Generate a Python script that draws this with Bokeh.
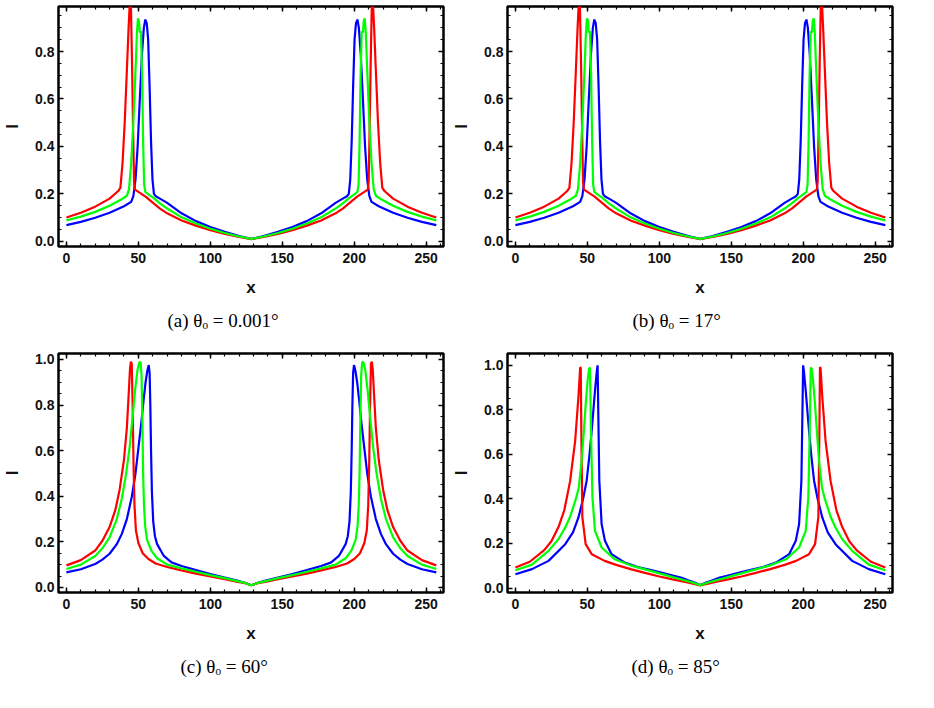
from bokeh.plotting import figure
from bokeh.models import Range1d, LinearAxis, FixedTicker, NumeralTickFormatter, Title, CustomLabelingPolicy
from bokeh.layouts import row, column
from bokeh.embed import file_html
from bokeh.resources import INLINE

# ---------------- data ----------------
# panel (a) theta_o = 0.001 deg   (panel (b) shows the same curves)
a_red_x = [0, 10, 20, 30, 36, 37.5, 39, 40.5, 42, 43.2, 44, 44.8, 45.6, 46.3, 47.0, 47.6, 50, 55, 60, 65, 70, 80, 90, 100, 110, 120, 128.5,
           137, 147, 157, 167, 177, 187, 192, 197, 202, 207, 209.4, 210, 210.7, 211.4, 212.2, 213, 213.8, 215, 216.5, 218, 219.5, 221, 227, 237, 247, 257]
a_red_y = [0.100, 0.120, 0.146, 0.180, 0.212, 0.225, 0.33, 0.50, 0.72, 0.90, 1.0, 1.0, 0.75, 0.48, 0.25, 0.218, 0.208, 0.188, 0.163, 0.138, 0.118, 0.088, 0.066, 0.047, 0.031, 0.018, 0.009,
           0.018, 0.031, 0.047, 0.066, 0.088, 0.118, 0.138, 0.163, 0.188, 0.208, 0.218, 0.25, 0.48, 0.75, 1.0, 1.0, 0.90, 0.72, 0.50, 0.33, 0.225, 0.212, 0.180, 0.146, 0.120, 0.100]
a_green_x = [0, 10, 20, 30, 38, 42, 43.5, 45, 46.5, 48, 49, 49.7, 50.4, 51.0, 51.8, 52.6, 53.3, 54.0, 54.8, 57, 60, 65, 70, 80, 90, 100, 110, 120, 128.5,
             137, 147, 157, 167, 177, 187, 192, 197, 200, 202.2, 203, 203.7, 204.4, 205.2, 206, 206.6, 207.3, 208, 209, 210.5, 212, 213.5, 215, 219, 227, 237, 247, 257]
a_green_y = [0.088, 0.104, 0.124, 0.150, 0.176, 0.192, 0.22, 0.33, 0.50, 0.72, 0.88, 0.94, 0.93, 0.88, 0.885, 0.70, 0.42, 0.24, 0.208, 0.198, 0.185, 0.16, 0.138, 0.101, 0.075, 0.053, 0.035, 0.020, 0.010,
             0.020, 0.035, 0.053, 0.075, 0.101, 0.138, 0.16, 0.185, 0.198, 0.208, 0.24, 0.42, 0.70, 0.885, 0.88, 0.93, 0.94, 0.88, 0.72, 0.50, 0.33, 0.22, 0.192, 0.176, 0.150, 0.124, 0.104, 0.088]
a_blue_x = [0, 10, 20, 30, 40, 45, 46.5, 48, 49.5, 51, 52.5, 53.8, 54.8, 55.8, 56.8, 57.8, 58.8, 59.8, 60.8, 62, 65, 70, 80, 90, 100, 110, 120, 128.5,
            137, 147, 157, 167, 177, 187, 192, 195, 196.2, 197.2, 198.2, 199.2, 200.2, 201.2, 202.2, 203.2, 204.5, 206, 207.5, 209, 210.5, 212, 217, 227, 237, 247, 257]
a_blue_y = [0.068, 0.082, 0.099, 0.120, 0.148, 0.166, 0.19, 0.26, 0.40, 0.60, 0.79, 0.90, 0.935, 0.92, 0.85, 0.65, 0.42, 0.26, 0.20, 0.190, 0.18, 0.162, 0.118, 0.085, 0.060, 0.040, 0.022, 0.010,
            0.022, 0.040, 0.060, 0.085, 0.118, 0.162, 0.18, 0.190, 0.20, 0.26, 0.42, 0.65, 0.85, 0.92, 0.935, 0.90, 0.79, 0.60, 0.40, 0.26, 0.19, 0.166, 0.148, 0.120, 0.099, 0.082, 0.068]

# panel (c) theta_o = 60 deg
c_red_x = [0, 10, 20, 25, 30, 34, 37, 40, 42, 43.2, 44.2, 44.8, 45.4, 46.0, 46.6, 47.3, 48.3, 50, 53, 57, 62, 70, 80, 90, 100, 110, 118, 124, 128.5,
           133, 139, 147, 157, 167, 177, 187, 195, 200, 204, 207, 208.7, 209.7, 210.4, 211, 211.6, 212.2, 212.8, 213.8, 215, 217, 220, 223, 227, 232, 237, 247, 257]
c_red_y = [0.097, 0.120, 0.162, 0.205, 0.265, 0.34, 0.43, 0.56, 0.70, 0.84, 0.96, 0.99, 0.98, 0.80, 0.55, 0.36, 0.25, 0.195, 0.150, 0.125, 0.105, 0.09, 0.075, 0.061, 0.048, 0.036, 0.026, 0.019, 0.010,
           0.019, 0.026, 0.036, 0.048, 0.061, 0.075, 0.09, 0.105, 0.125, 0.150, 0.195, 0.25, 0.36, 0.55, 0.80, 0.98, 0.99, 0.96, 0.84, 0.70, 0.56, 0.43, 0.34, 0.265, 0.205, 0.162, 0.120, 0.097]
c_green_x = [0, 10, 20, 25, 30, 35, 38.5, 41.5, 44, 46, 47.8, 49.3, 50.5, 51.5, 52.2, 52.8, 53.3, 53.9, 54.7, 56, 59, 63, 70, 80, 90, 100, 110, 118, 124, 128.5,
             133, 139, 147, 157, 167, 177, 187, 194, 198, 201, 202.3, 203.1, 203.7, 204.2, 204.8, 205.5, 206.5, 207.7, 209.2, 211, 213, 215.5, 218.5, 222, 227, 232, 237, 247, 257]
c_green_y = [0.081, 0.100, 0.138, 0.172, 0.22, 0.30, 0.39, 0.50, 0.62, 0.75, 0.87, 0.95, 0.985, 0.99, 0.93, 0.72, 0.50, 0.36, 0.27, 0.21, 0.162, 0.128, 0.1, 0.084, 0.069, 0.054, 0.041, 0.029, 0.020, 0.010,
             0.020, 0.029, 0.041, 0.054, 0.069, 0.084, 0.1, 0.128, 0.162, 0.21, 0.27, 0.36, 0.50, 0.72, 0.93, 0.99, 0.985, 0.95, 0.87, 0.75, 0.62, 0.50, 0.39, 0.30, 0.22, 0.172, 0.138, 0.100, 0.081]
c_blue_x = [0, 10, 20, 25, 30, 35, 38.5, 42, 45.5, 48, 50, 52, 53.6, 55, 56.2, 57.2, 57.8, 58.3, 58.8, 59.4, 60.3, 61.5, 63, 67.5, 73, 80, 90, 100, 110, 118, 124, 128.5,
            133, 139, 147, 157, 167, 177, 184, 189.5, 194, 195.5, 196.7, 197.6, 198.2, 198.7, 199.2, 199.8, 200.8, 202, 203.4, 205, 207, 209, 211.5, 215, 218.5, 222, 227, 232, 237, 247, 257]
c_blue_y = [0.066, 0.080, 0.103, 0.122, 0.148, 0.190, 0.235, 0.30, 0.40, 0.50, 0.61, 0.72, 0.82, 0.90, 0.95, 0.975, 0.94, 0.80, 0.60, 0.42, 0.29, 0.225, 0.19, 0.14, 0.11, 0.094, 0.076, 0.059, 0.044, 0.031, 0.021, 0.010,
            0.021, 0.031, 0.044, 0.059, 0.076, 0.094, 0.11, 0.14, 0.19, 0.225, 0.29, 0.42, 0.60, 0.80, 0.94, 0.975, 0.95, 0.90, 0.82, 0.72, 0.61, 0.50, 0.40, 0.30, 0.235, 0.190, 0.148, 0.122, 0.103, 0.080, 0.066]

# panel (d) theta_o = 85 deg
d_red_x = [0, 10, 20, 25, 30, 34, 38, 41.5, 43.8, 45, 45.4, 45.8, 46.5, 48.8, 53, 62, 70, 80, 90, 100, 110, 118, 124, 128.5,
           133, 139, 147, 157, 167, 177, 187, 195, 204, 208.2, 210.5, 211.2, 211.6, 212, 213.2, 215.5, 219, 223, 227, 232, 237, 247, 257]
d_red_y = [0.092, 0.118, 0.17, 0.21, 0.275, 0.35, 0.48, 0.66, 0.86, 0.99, 0.99, 0.70, 0.32, 0.197, 0.152, 0.122, 0.104, 0.085, 0.068, 0.052, 0.038, 0.027, 0.019, 0.012,
           0.019, 0.027, 0.038, 0.052, 0.068, 0.085, 0.104, 0.122, 0.152, 0.197, 0.32, 0.70, 0.99, 0.99, 0.86, 0.66, 0.48, 0.35, 0.275, 0.21, 0.17, 0.118, 0.092]
d_green_x = [0, 11.5, 23, 30, 34.6, 38, 42, 44, 46, 47.5, 49, 50.3, 51.2, 51.8, 52.5, 53.5, 55.3, 59.9, 69, 80, 90, 100, 110, 118, 124, 128.5,
             133, 139, 147, 157, 167, 177, 188, 197.1, 201.7, 203.5, 204.5, 205.2, 205.8, 206.7, 208, 209.5, 211, 213, 215, 219, 222.4, 227, 234, 245.5, 257]
d_green_y = [0.080, 0.105, 0.167, 0.22, 0.272, 0.32, 0.40, 0.45, 0.57, 0.70, 0.84, 0.94, 0.985, 0.99, 0.707, 0.407, 0.257, 0.182, 0.129, 0.102, 0.084, 0.066, 0.048, 0.034, 0.023, 0.013,
             0.023, 0.034, 0.048, 0.066, 0.084, 0.102, 0.129, 0.182, 0.257, 0.407, 0.707, 0.99, 0.985, 0.94, 0.84, 0.70, 0.57, 0.45, 0.40, 0.32, 0.272, 0.22, 0.167, 0.105, 0.080]
d_blue_x = [0, 11.5, 23, 34.6, 40, 43.8, 47, 49.5, 51.5, 53, 55.3, 56.5, 57.1, 57.6, 58.3, 59.9, 62.2, 66.8, 76, 85, 92, 100, 110, 115, 120, 124, 128.5,
            133, 137, 142, 147, 157, 165, 172, 181, 190.2, 194.8, 197.1, 198.7, 199.4, 199.9, 200.5, 201.7, 204, 205.5, 207.5, 210, 213.2, 217, 222.4, 234, 245.5, 257]
d_blue_y = [0.062, 0.085, 0.122, 0.197, 0.25, 0.317, 0.40, 0.482, 0.60, 0.707, 0.887, 0.97, 1.0, 0.78, 0.482, 0.287, 0.212, 0.152, 0.114, 0.094, 0.084, 0.072, 0.055, 0.047, 0.035, 0.026, 0.014,
            0.026, 0.035, 0.047, 0.055, 0.072, 0.084, 0.094, 0.114, 0.152, 0.212, 0.287, 0.482, 0.78, 1.0, 0.97, 0.887, 0.707, 0.60, 0.482, 0.40, 0.317, 0.25, 0.197, 0.122, 0.085, 0.062]

captions = ["(a) θₒ = 0.001°", "(b) θₒ = 17°", "(c) θₒ = 60°", "(d) θₒ = 85°"]
x_major = [0, 50, 100, 150, 200, 250]
x_minor = [v for v in range(0, 261, 10)]
y_major_top = [0.0, 0.2, 0.4, 0.6, 0.8]
y_major_bottom = [0.0, 0.2, 0.4, 0.6, 0.8, 1.0]
y_minor = [round(0.05 * i, 2) for i in range(0, 21)]

RED, GREEN, BLUE = "#ff0000", "#00ff00", "#0000ff"
NO_LABELS = CustomLabelingPolicy(code="return [];")


def panel(curves, yr, ymajor, caption, width, height, bl, br, bt, bb, cap_offset):
    p = figure(width=width, height=height, x_range=Range1d(-5.5, 262.0), y_range=Range1d(*yr),
               output_backend="svg", toolbar_location=None,
               min_border_left=bl, min_border_right=br, min_border_top=bt, min_border_bottom=bb,
               x_axis_label="x", y_axis_label="I")
    p.grid.visible = False
    p.background_fill_color = "white"
    p.border_fill_color = "white"
    p.outline_line_color = "black"
    p.outline_line_width = 2.5
    p.outline_line_alpha = 1.0
    for xs, ys, col in curves:
        p.line(xs, ys, line_color=col, line_width=2.2)
    xt = FixedTicker(ticks=x_major, minor_ticks=x_minor)
    yt = FixedTicker(ticks=ymajor, minor_ticks=[v for v in y_minor if yr[0] <= v <= yr[1]])
    bottom_ax = p.below[0]
    left_ax = p.left[0]
    bottom_ax.ticker = xt
    left_ax.ticker = yt
    left_ax.formatter = NumeralTickFormatter(format="0.0")
    top_ax = LinearAxis(ticker=xt, major_label_policy=NO_LABELS)
    right_ax = LinearAxis(ticker=yt, major_label_policy=NO_LABELS)
    p.add_layout(top_ax, "above")
    p.add_layout(right_ax, "right")
    for ax in (bottom_ax, left_ax, top_ax, right_ax):
        ax.axis_line_color = None
        ax.major_tick_in = 5
        ax.major_tick_out = 0
        ax.minor_tick_in = 3
        ax.minor_tick_out = 0
        ax.major_tick_line_color = "black"
        ax.minor_tick_line_color = "black"
        ax.major_tick_line_width = 1.5
        ax.minor_tick_line_width = 1.2
        ax.major_label_text_font = "Liberation Sans"
        ax.major_label_text_font_style = "bold"
        ax.major_label_text_font_size = "14px"
        ax.major_label_text_color = "#111111"
        ax.axis_label_text_font = "Liberation Sans"
        ax.axis_label_text_font_style = "bold"
        ax.axis_label_text_font_size = "17px"
        ax.axis_label_text_color = "#111111"
    for ax in (top_ax, right_ax):
        ax.major_label_text_font_size = "0px"
        ax.major_label_standoff = 0
        ax.axis_label = None
    bottom_ax.major_label_standoff = 6
    bottom_ax.axis_label_standoff = 12
    left_ax.major_label_standoff = 4
    left_ax.axis_label_standoff = 10
    p.add_layout(Title(text=caption, align="left", offset=cap_offset,
                       text_font="Liberation Serif", text_font_size="19px",
                       text_font_style="normal", text_color="black", standoff=17), "below")
    return p


pa = panel([(a_blue_x, a_blue_y, BLUE), (a_red_x, a_red_y, RED), (a_green_x, a_green_y, GREEN)],
           (-0.022, 0.99), y_major_top, captions[0], 449, 342, 57, 6, 6, 96, 109)
pb = panel([(a_blue_x, a_blue_y, BLUE), (a_red_x, a_red_y, RED), (a_green_x, a_green_y, GREEN)],
           (-0.022, 0.99), y_major_top, captions[1], 485, 342, 58, 42, 6, 96, 125)
pc = panel([(c_blue_x, c_blue_y, BLUE), (c_red_x, c_red_y, RED), (c_green_x, c_green_y, GREEN)],
           (-0.022, 1.026), y_major_bottom, captions[2], 449, 366, 57, 6, 11, 116, 122)
pd = panel([(d_blue_x, d_blue_y, BLUE), (d_red_x, d_red_y, RED), (d_green_x, d_green_y, GREEN)],
           (-0.02, 1.053), y_major_bottom, captions[3], 485, 366, 58, 42, 11, 116, 124)

layout = column(row(pa, pb, spacing=0), row(pc, pd, spacing=0), spacing=0)
open("out.html", "w").write(file_html(layout, INLINE))
